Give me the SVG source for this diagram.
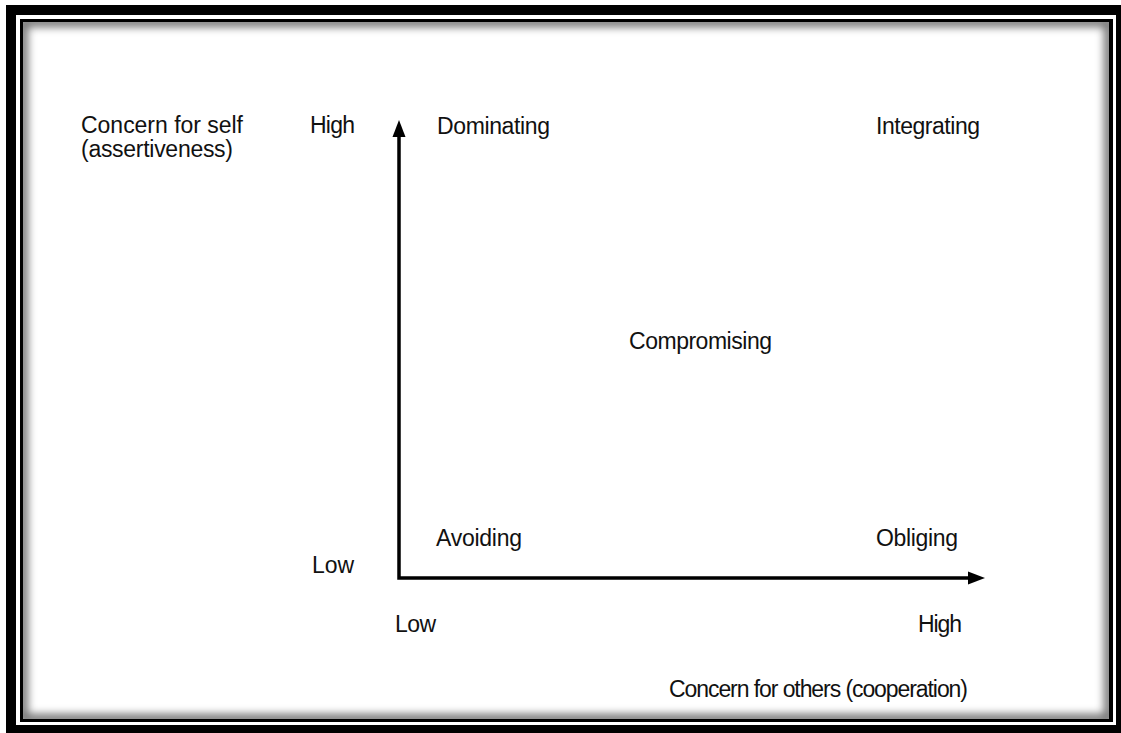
<svg xmlns="http://www.w3.org/2000/svg" width="1121" height="733" viewBox="0 0 1121 733">
  <style>
    .lbl { font-family: "Liberation Sans", Arial, sans-serif; font-size: 23px; fill: #111; }
    .axis { fill: none; stroke: #000; stroke-width: 3.5; stroke-linejoin: miter; }
  </style>
  <defs>
    <marker id="head" markerUnits="userSpaceOnUse" markerWidth="18" markerHeight="14" refX="0" refY="7" orient="auto-start-reverse">
      <path d="M0,0.5 L17,7 L0,13.5 z" fill="#000"/>
    </marker>
    <clipPath id="panel">
      <rect x="23" y="22" width="1086" height="697"/>
    </clipPath>
    <filter id="soft" x="-5%" y="-5%" width="110%" height="110%">
      <feGaussianBlur stdDeviation="4"/>
    </filter>
  </defs>

  <!-- page and double frame -->
  <rect x="0" y="0" width="1121" height="733" fill="#fff"/>
  <rect x="6" y="5" width="1115" height="728" fill="#000"/>
  <rect x="16" y="15" width="1100" height="710" fill="#fff"/>
  <rect x="20" y="19" width="1093" height="703" fill="#000"/>
  <rect x="23" y="22" width="1086" height="697" fill="#fff"/>
  <g clip-path="url(#panel)">
    <rect x="23" y="22" width="1086" height="697" fill="none" stroke="#000" stroke-width="10" opacity="0.55" filter="url(#soft)"/>
  </g>

  <!-- axes -->
  <g id="connectors">
    <path class="axis" d="M399,137 V578 H968" marker-start="url(#head)" marker-end="url(#head)"/>
  </g>

  <!-- axis titles and ticks -->
  <g id="y-axis-title">
    <text class="lbl" x="81" y="133" textLength="162">Concern for self</text>
    <text class="lbl" x="81" y="157" textLength="152">(assertiveness)</text>
  </g>
  <g id="y-high"><text class="lbl" x="310" y="133" textLength="45">High</text></g>
  <g id="y-low"><text class="lbl" x="312" y="573" textLength="42">Low</text></g>
  <g id="x-low"><text class="lbl" x="395" y="632" textLength="41">Low</text></g>
  <g id="x-high"><text class="lbl" x="918" y="632" textLength="44">High</text></g>
  <g id="x-axis-title"><text class="lbl" x="669" y="697" textLength="299">Concern for others (cooperation)</text></g>

  <!-- conflict styles -->
  <g id="dominating"><text class="lbl" x="437" y="134" textLength="113">Dominating</text></g>
  <g id="integrating"><text class="lbl" x="876" y="134" textLength="104">Integrating</text></g>
  <g id="compromising"><text class="lbl" x="629" y="349" textLength="143">Compromising</text></g>
  <g id="avoiding"><text class="lbl" x="436" y="546" textLength="86">Avoiding</text></g>
  <g id="obliging"><text class="lbl" x="876" y="546" textLength="82">Obliging</text></g>
</svg>
